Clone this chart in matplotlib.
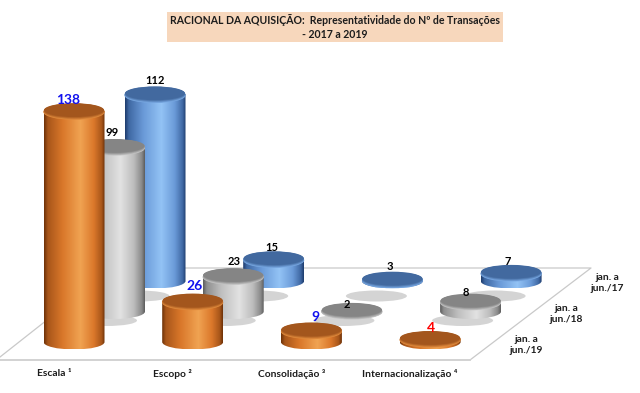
import numpy as np
import matplotlib
matplotlib.use('Agg')
import matplotlib.pyplot as plt
from matplotlib.colors import LinearSegmentedColormap, to_rgb
from matplotlib.patches import Ellipse, PathPatch, Rectangle
from matplotlib.path import Path

plt.rcParams['font.family'] = ['Lato', 'DejaVu Sans']

# data
categories = ['Escala ¹', 'Escopo ²', 'Consolidação ³', 'Internacionalização ⁴']
periods = ['jan. a\njun./19', 'jan. a\njun./18', 'jan. a\njun./17']
values_2019 = [138, 26, 9, 4]
values_2018 = [99, 23, 2, 8]
values_2017 = [112, 15, 3, 7]
title_lines = ['RACIONAL DA AQUISIÇÃO:  Representatividade do Nº de Transações', '- 2017 a 2019']

# "3d" layout, in pixels of the picture
x_front, x_step = 74, 118.7
row_dx, row_dy = 40.5, -30.5
y_front = 342
r_x, r_y = 30.5, 7.5
px_per_unit, v_floor = 1.7, 2.0

stops = [0, 0.06, 0.3, 0.6, 0.82, 0.95, 1]
colors = {
    0: dict(side=['#6e3208', '#a8561a', '#d9772a', '#f0a352', '#db782b', '#a8561a', '#6e3208'], top='#a3561d', rim='#e08a3c'),
    1: dict(side=['#5e5e5e', '#8f8f8f', '#c0c0c0', '#e2e2e2', '#bdbdbd', '#8a8a8a', '#5e5e5e'], top='#858585', rim='#c4c4c4'),
    2: dict(side=['#1e3d6e', '#3f68a3', '#6a9ad8', '#93c3f5', '#6a9ad8', '#3f68a3', '#1e3d6e'], top='#42699f', rim='#78a8e2'),
}
# small nudges of the value labels
label_dx = {0: [-6, 2, 4, 1], 1: [-2, 1, -5, -5], 2: [0, -2, -3, -3]}
label_dy = {0: [-11, -15, -13, -11], 1: [-14, -14, -6, -9], 2: [-13, -11, -13, -11]}
shadow_off = {1: (-8, 9), 2: (-16, 15)}

fig = plt.figure(figsize=(6.4, 3.93), dpi=100)
ax = fig.add_axes([0, 0, 1, 1])
ax.axis('off')
text_c = '#1c1c1c'


def height(v):
    return max((v - v_floor) * px_per_unit, 1.0)


def cylinder(cx, base, top, style, z):
    k = 0.5523
    verts = [(cx - r_x, top), (cx - r_x, base),
             (cx - r_x, base + k * r_y), (cx - k * r_x, base + r_y), (cx, base + r_y),
             (cx + k * r_x, base + r_y), (cx + r_x, base + k * r_y), (cx + r_x, base),
             (cx + r_x, top), (cx - r_x, top)]
    codes = [Path.MOVETO, Path.LINETO, Path.CURVE4, Path.CURVE4, Path.CURVE4,
             Path.CURVE4, Path.CURVE4, Path.CURVE4, Path.LINETO, Path.CLOSEPOLY]
    clip = PathPatch(Path(verts, codes), fc='none', ec='none', transform=ax.transData)
    ax.add_patch(clip)
    cmap = LinearSegmentedColormap.from_list('side', list(zip(stops, style['side'])))
    grad = np.linspace(0, 1, 128).reshape(1, -1)
    im = ax.imshow(grad, cmap=cmap, extent=(cx - r_x, cx + r_x, base + r_y, top), aspect='auto',
                   interpolation='bilinear', zorder=z)
    im.set_clip_path(clip)
    # soft bevel going from the rim colour into the flat top
    rim, flat = np.array(to_rgb(style['rim'])), np.array(to_rgb(style['top']))
    for n, t in enumerate(np.linspace(0, 1, 6)):
        ax.add_patch(Ellipse((cx, top + 1.5 - 2.2 * t), 2 * r_x - t, 2 * r_y - 1.2 * t,
                             fc=tuple(rim + (flat - rim) * t), ec='none', zorder=z + 0.1 + n * 0.05))


# floor of the chart
floor_c = '#c9c9c9'
ax.plot([0, 470, 591, 113, 0], [360, 360, 268, 268, 357], color=floor_c, lw=0.9, zorder=1)
ax.plot([0, 470], [360, 360], color='#d2d2d2', lw=1.3, zorder=1)

rows = [values_2019, values_2018, values_2017]
z = 5
for row in (2, 1, 0):
    for i, v in enumerate(rows[row]):
        cx = x_front + i * x_step + row * row_dx
        base = y_front + row * row_dy
        top = base - height(v)
        if row in shadow_off:
            off = shadow_off[row]
            ax.add_patch(Ellipse((cx + off[0], base + off[1]), 2 * r_x, 11, fc='#d4d4d4', ec='none', zorder=2))
        cylinder(cx, base, top, colors[row], z)
        z += 1
        if row == 0:
            col = 'red' if v == 4 else '#1010ee'
            size = 10
        else:
            col, size = 'black', 8
        ax.text(cx + label_dx[row][i], top + label_dy[row][i], str(v), color=col, fontsize=size,
                fontweight='bold', ha='center', va='center', zorder=100)

# category and period labels
for i, name in enumerate(categories):
    ax.text(x_front + i * x_step - 20, 374, name, fontsize=7.4, fontweight='bold', color=text_c,
            ha='center', va='center', zorder=100)
for row, name in enumerate(periods):
    ax.text(526 + row * 40.5, 345 - row * 31, name, fontsize=7.4, fontweight='bold', color=text_c,
            ha='center', va='center', linespacing=1.25, zorder=100)

# title
ax.add_patch(Rectangle((167, 12), 336, 30, fc='#f7d7bc', ec='none', zorder=1))
ax.text(335, 20, title_lines[0], fontsize=7.6, fontweight='bold', color=text_c, ha='center', va='center', zorder=100)
ax.text(335, 34, title_lines[1], fontsize=7.6, fontweight='bold', color=text_c, ha='center', va='center', zorder=100)

ax.set_xlim(0, 640)
ax.set_ylim(393, 0)
fig.savefig('out.png', dpi=100)
